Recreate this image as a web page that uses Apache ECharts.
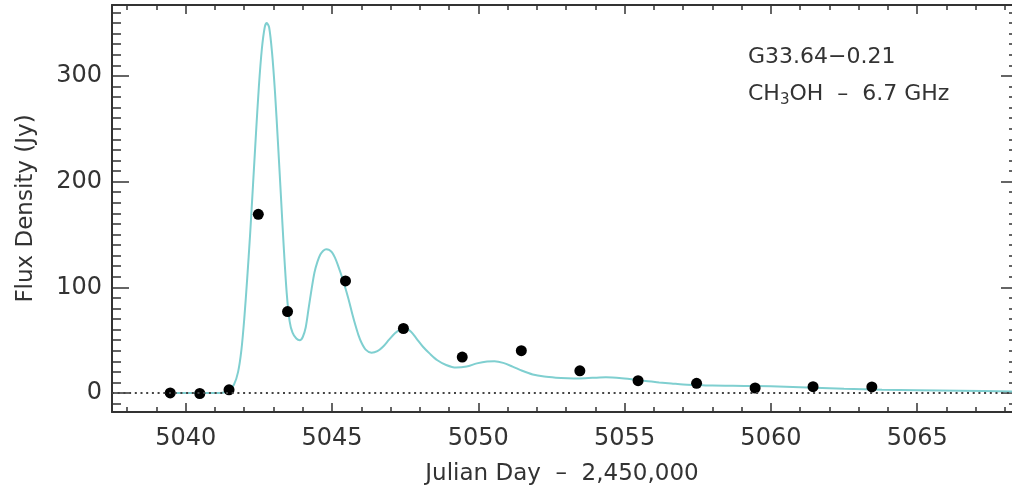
<!DOCTYPE html>
<html>
<head>
<meta charset="utf-8">
<script src="https://cdn.jsdelivr.net/npm/echarts@6/dist/echarts.min.js"></script>
<style>
html,body{margin:0;padding:0;background:#fff;}
#chart{width:1012px;height:491px;}
</style>
</head>
<body>
<div id="chart"></div>
<script>
// ---- data ----
const obsX = [5039.47, 5040.48, 5041.48, 5042.48, 5043.48, 5045.46, 5047.44, 5049.45, 5051.47, 5053.47, 5055.46, 5057.46, 5059.46, 5061.44, 5063.45];
const obsY = [0, -0.5, 3, 169, 77, 106, 61, 34, 40, 21, 11.6, 9.1, 4.7, 6.0, 5.7];

const curveX = [5039.5, 5040.0, 5040.5, 5041.0, 5041.3, 5041.5, 5041.65, 5041.79, 5041.9, 5042.0, 5042.1, 5042.2, 5042.3, 5042.4, 5042.5, 5042.6, 5042.7, 5042.77, 5042.85, 5042.95, 5043.05, 5043.15, 5043.25, 5043.35, 5043.45, 5043.55, 5043.65, 5043.78, 5043.9, 5044.0, 5044.1, 5044.2, 5044.3, 5044.4, 5044.5, 5044.6, 5044.7, 5044.8, 5044.9, 5045.0, 5045.1, 5045.2, 5045.3, 5045.4, 5045.5, 5045.6, 5045.7, 5045.8, 5045.9, 5046.0, 5046.15, 5046.35, 5046.55, 5046.75, 5046.95, 5047.15, 5047.35, 5047.5, 5047.7, 5047.9, 5048.1, 5048.35, 5048.6, 5048.9, 5049.24, 5049.6, 5049.95, 5050.3, 5050.55, 5050.85, 5051.17, 5051.5, 5051.86, 5052.25, 5052.65, 5053.05, 5053.45, 5053.9, 5054.36, 5054.9, 5055.38, 5055.8, 5056.18, 5056.6, 5057.0, 5057.5, 5058.0, 5058.7, 5059.48, 5060.5, 5061.5, 5062.5, 5063.8, 5065.0, 5066.5, 5068.24];
const curveY = [0, 0, 0, 0, 0.5, 3, 8, 20, 40, 70, 108, 150, 197, 245, 290, 325, 346, 350, 346, 322, 285, 238, 188, 138, 95, 68, 57, 51.5, 50, 53, 62, 80, 98, 114, 124, 131, 134.5, 136, 135.5, 133, 128, 121, 113, 104.5, 95, 85, 74, 64, 55, 48, 41, 38, 39.5, 44, 50.5, 56.5, 60.5, 61.5, 58, 51, 44, 37, 31, 26.5, 24, 25, 28, 29.8, 30, 28.5, 25, 21, 17.5, 15.5, 14.5, 14, 13.8, 14.3, 14.8, 14, 12.6, 11, 10, 9, 8, 7.5, 7, 6.8, 6.5, 6, 5, 4, 3, 2.5, 2, 1.5];

const xMajorTicks = [5040, 5045, 5050, 5055, 5060, 5065];
const xMinorTicks = [5038, 5039, 5041, 5042, 5043, 5044, 5046, 5047, 5048, 5049, 5051, 5052, 5053, 5054, 5056, 5057, 5058, 5059, 5061, 5062, 5063, 5064, 5066, 5067, 5068];
const yMajorTicks = [0, 100, 200, 300];
const yMinorTicks = [-10, 10, 20, 30, 40, 50, 60, 70, 80, 90, 110, 120, 130, 140, 150, 160, 170, 180, 190, 210, 220, 230, 240, 250, 260, 270, 280, 290, 310, 320, 330, 340, 350, 360];

const X_MIN = 5037.48, X_MAX = 5068.24;
const Y_MIN = -18, Y_MAX = 367.1;

const labelLine1 = 'G33.64\u22120.21';
const xTitle = 'Julian Day  \u2013  2,450,000';
const yTitle = 'Flux Density (Jy)';

// ---- chart ----
const FONT = 'DejaVu Sans';
const INK = '#333';
const chart = echarts.init(document.getElementById('chart'), null, {renderer: 'canvas'});
const plain = v => String(v);

function xAx(pos, ticks, len, labels) {
  const a = {
    type: 'value', position: pos, min: X_MIN, max: X_MAX,
    splitLine: {show: false},
    axisLine: {show: labels !== null, onZero: false, lineStyle: {color: INK, width: 2}},
    axisTick: {show: true, inside: true, length: len, customValues: ticks, lineStyle: {color: INK, width: 1.5}},
    axisLabel: {show: false}
  };
  if (labels) {
    a.axisLabel = {show: true, customValues: ticks, formatter: plain, fontSize: 24, fontFamily: FONT, color: INK, margin: 15};
    a.name = xTitle; a.nameLocation = 'middle'; a.nameGap = 51;
    a.nameTextStyle = {fontSize: 23, fontFamily: FONT, color: INK};
  }
  return a;
}
function yAx(pos, ticks, len, labels, line) {
  const a = {
    type: 'value', position: pos, min: Y_MIN, max: Y_MAX,
    splitLine: {show: false},
    axisLine: {show: line, onZero: false, lineStyle: {color: INK, width: 2}},
    axisTick: {show: true, inside: true, length: len, customValues: ticks, lineStyle: {color: INK, width: 1.5}},
    axisLabel: {show: false}
  };
  if (labels) {
    a.axisLabel = {show: true, customValues: ticks, formatter: plain, fontSize: 24, fontFamily: FONT, color: INK, margin: 10};
    a.name = yTitle; a.nameLocation = 'middle'; a.nameGap = 74;
    a.nameTextStyle = {fontSize: 23, fontFamily: FONT, color: INK};
  }
  return a;
}

const option = {
  backgroundColor: '#fff',
  animation: false,
  grid: {left: 112, right: 0, top: 5, bottom: 79},
  title: [
    {text: labelLine1, left: 743, top: 41, textStyle: {fontSize: 22, fontFamily: FONT, color: INK, fontWeight: 'normal'}},
    {text: '{a|CH}{s|3}{a|OH  \u2013  6.7 GHz}', left: 743, top: 75,
     textStyle: {fontWeight: 'normal', rich: {
       a: {fontSize: 22, fontFamily: FONT, color: INK, lineHeight: 28},
       s: {fontSize: 15, fontFamily: FONT, color: INK, lineHeight: 28, padding: [12, 0, 0, 0]}
     }}}
  ],
  xAxis: [
    xAx('bottom', xMajorTicks, 9, true),
    xAx('bottom', xMinorTicks, 5, null),
    xAx('top', xMajorTicks, 9, false),
    xAx('top', xMinorTicks, 5, null)
  ],
  yAxis: [
    yAx('left', yMajorTicks, 17, true, true),
    yAx('left', yMinorTicks, 9, false, false),
    yAx('right', yMajorTicks, 11, false, false),
    yAx('right', yMinorTicks, 3, false, false)
  ],
  series: [
    {
      type: 'line', data: [], xAxisIndex: 0, yAxisIndex: 0, z: 1, silent: true,
      markLine: {
        silent: true, symbol: 'none', label: {show: false},
        lineStyle: {color: '#444', width: 2, type: [2, 3.7]},
        data: [{yAxis: 0}]
      }
    },
    {
      type: 'line', xAxisIndex: 0, yAxisIndex: 0, z: 2,
      data: curveX.map((x, i) => [x, curveY[i]]),
      showSymbol: false, smooth: 0.3,
      lineStyle: {color: '#7fcfd0', width: 2}
    },
    {
      type: 'scatter', xAxisIndex: 0, yAxisIndex: 0, z: 3,
      data: obsX.map((x, i) => [x, obsY[i]]),
      symbol: 'circle', symbolSize: 11,
      itemStyle: {color: '#000', opacity: 1}
    }
  ]
};
chart.setOption(option);
</script>
</body>
</html>
